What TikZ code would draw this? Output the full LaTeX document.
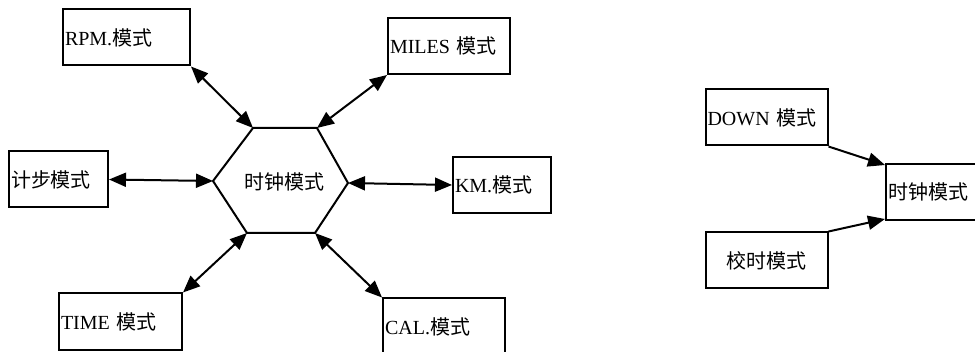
\documentclass[tikz,border=0pt]{standalone}
\usepackage{fontspec}
\setmainfont{Liberation Serif}
\newfontfamily\cjk{Noto Sans CJK SC}
\usetikzlibrary{arrows.meta,positioning}
\newcommand\zh[1]{{\cjk #1}}

\begin{document}
\begin{tikzpicture}[x=1pt,y=1pt,node distance=85pt,
  font=\fontsize{20}{24}\selectfont,
  modebox/.style={draw,line width=2pt,inner xsep=2pt,inner ysep=0pt,minimum height=56pt,align=left},
  biarrow/.style={line width=2pt,{Triangle[length=17pt,width=14pt]}-{Triangle[length=17pt,width=14pt]}},
  onearrow/.style={line width=2pt,-{Triangle[length=17pt,width=14pt]}}]
\useasboundingbox (0,0) rectangle (975,351);
\clip (0,0) rectangle (975,351);
% hexagon hub
\coordinate (h1) at (253,223);
\coordinate (h2) at (317,223);
\coordinate (h3) at (348,168);
\coordinate (h4) at (315,118);
\coordinate (h5) at (247,118);
\coordinate (h6) at (213,170);
\draw[line width=2pt] (h1) -- (h2) -- (h3) -- (h4) -- (h5) -- (h6) -- cycle;
\node (hub) at (284,169) {\zh{时钟模式}};
\node[modebox,text width=123pt] (rpm) at (126.5,313.5) {RPM.\zh{模式}\\[4pt]};
\node[modebox,text width=118pt] (miles) at (449,305) {MILES \zh{模式}\\[2pt]};
\node[modebox,text width=95pt] (pedo) at (58.5,171.5) {\zh{计步模式}};
\node[modebox,text width=94pt] (km) at (502,166) {KM.\zh{模式}};
\node[modebox,text width=119pt] (time) at (120.5,29.5) {TIME \zh{模式}\\[2pt]};
\node[modebox,text width=118pt] (cal) at (444,24.5) {CAL.\zh{模式}};
\draw[biarrow] (rpm.south east) -- (h1);
\draw[biarrow] (miles.south west) -- (h2);
\draw[biarrow] (pedo.east) -- (h6);
\draw[biarrow] (h3) -- (km.west);
\draw[biarrow] (time.north east) -- (h5);
\draw[biarrow] (cal.north west) -- (h4);
% right part
\node[modebox,text width=118pt] (down) at (766.5,233.5) {DOWN \zh{模式}};
\node[modebox,text width=118pt,align=center,below=of down] (adjust) {\zh{校时模式}};
\node[modebox,text width=196pt,anchor=west] (clock) at (885,159) {\zh{时钟模式}};
\draw[onearrow] (down.south east) -- ([yshift=-2pt]clock.north west);
\draw[onearrow] (adjust.north east) -- ([yshift=2pt]clock.south west);
\end{tikzpicture}
\end{document}
